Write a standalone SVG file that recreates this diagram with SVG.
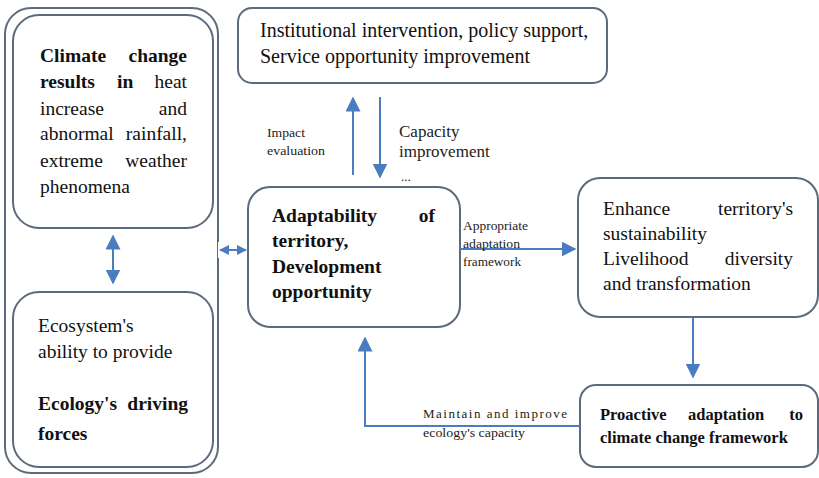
<svg xmlns="http://www.w3.org/2000/svg" width="819" height="478" viewBox="0 0 819 478">
  <style>
    .box { fill: #ffffff; stroke: #5b6a7c; stroke-width: 2; }
    .t { font-family: 'Liberation Serif', 'DejaVu Serif', 'Noto Serif', Tinos, 'Times New Roman', Times, serif; font-size: 19.5px; fill: #111111; }
    .b { font-weight: bold; }
    .s { font-family: 'Liberation Serif', 'DejaVu Serif', 'Noto Serif', Tinos, 'Times New Roman', Times, serif; font-size: 13px; fill: #222222; }
    .m { font-family: 'Liberation Serif', 'DejaVu Serif', 'Noto Serif', Tinos, 'Times New Roman', Times, serif; font-size: 17px; fill: #222222; }
    .p { font-family: 'Liberation Serif', 'DejaVu Serif', 'Noto Serif', Tinos, 'Times New Roman', Times, serif; font-size: 16.5px; font-weight: bold; fill: #111111; }
    .e { text-anchor: end; }
    .arrow { fill: none; stroke: #4a7dbf; stroke-width: 2; }
  </style>
  <defs>
    <marker id="head" viewBox="0 0 10 10" refX="9" refY="5" markerWidth="7.5" markerHeight="7.5" markerUnits="strokeWidth" orient="auto-start-reverse">
      <path d="M0,0 L10,5 L0,10 Z" fill="#4a7dbf"/>
    </marker>
    <marker id="headS" viewBox="0 0 10 10" refX="9" refY="5" markerWidth="5" markerHeight="5" markerUnits="strokeWidth" orient="auto-start-reverse">
      <path d="M0,0 L10,5 L0,10 Z" fill="#4a7dbf"/>
    </marker>
  </defs>

  <rect width="819" height="478" fill="#ffffff"/>

  <!-- Outer frame around the climate and ecology boxes -->
  <g id="frame">
    <rect class="box" x="5" y="8" width="213" height="465" rx="26"/>
  </g>

  <g id="climate">
    <rect class="box" x="13" y="15" width="200" height="213" rx="26"/>
    <text class="t b" x="40" y="62">Climate</text>
    <text class="t b e" x="187" y="62">change</text>
    <text class="t b" x="40" y="88">results</text>
    <text class="t b" x="117" y="88">in</text>
    <text class="t e" x="187" y="88">heat</text>
    <text class="t" x="40" y="115">increase</text>
    <text class="t e" x="187" y="115">and</text>
    <text class="t" x="40" y="140">abnormal</text>
    <text class="t e" x="187" y="140">rainfall,</text>
    <text class="t" x="40" y="167">extreme</text>
    <text class="t e" x="187" y="167">weather</text>
    <text class="t" x="40" y="193">phenomena</text>
  </g>

  <g id="ecosystem">
    <rect class="box" x="13" y="292" width="200" height="175" rx="26"/>
    <text class="t" x="38" y="332">Ecosystem's</text>
    <text class="t" x="38" y="358">ability to provide</text>
    <text class="t b" x="38" y="410">Ecology's</text>
    <text class="t b e" x="188" y="410">driving</text>
    <text class="t b" x="38" y="440">forces</text>
  </g>

  <g id="institutional">
    <rect class="box" x="238" y="8" width="369" height="75" rx="14"/>
    <text class="t" x="260" y="37" style="font-size:20px">Institutional intervention, policy support,</text>
    <text class="t" x="260" y="63" style="font-size:20px">Service opportunity improvement</text>
  </g>

  <g id="adaptability">
    <rect class="box" x="248" y="187" width="212" height="140" rx="22"/>
    <text class="t b" x="272" y="222">Adaptability</text>
    <text class="t b e" x="435" y="222">of</text>
    <text class="t b" x="272" y="247">territory,</text>
    <text class="t b" x="272" y="273">Development</text>
    <text class="t b" x="272" y="298">opportunity</text>
  </g>

  <g id="sustainability">
    <rect class="box" x="578" y="178" width="240" height="139" rx="22"/>
    <text class="t" x="603" y="215">Enhance</text>
    <text class="t e" x="793" y="215">territory's</text>
    <text class="t" x="603" y="240">sustainability</text>
    <text class="t" x="603" y="265">Livelihood</text>
    <text class="t e" x="793" y="265">diversity</text>
    <text class="t" x="603" y="290">and transformation</text>
  </g>

  <g id="proactive">
    <rect class="box" x="580" y="385" width="238" height="82" rx="16"/>
    <text class="p" x="600" y="420">Proactive</text>
    <text class="p" x="688" y="420">adaptation</text>
    <text class="p e" x="803" y="420">to</text>
    <text class="p" x="600" y="443">climate change framework</text>
  </g>

  <g id="connectors">
    <!-- climate <-> ecosystem -->
    <line class="arrow" x1="113" y1="236" x2="113" y2="283" marker-start="url(#head)" marker-end="url(#head)"/>
    <!-- frame <-> adaptability -->
    <rect x="218" y="242" width="29" height="16" fill="#ffffff"/>
    <line class="arrow" x1="220" y1="250" x2="246" y2="250" marker-start="url(#headS)" marker-end="url(#headS)"/>
    <!-- adaptability -> institutional -->
    <line class="arrow" x1="353" y1="175" x2="353" y2="98" marker-end="url(#head)"/>
    <!-- institutional -> adaptability -->
    <line class="arrow" x1="380" y1="97" x2="380" y2="177" marker-end="url(#head)"/>
    <!-- adaptability -> sustainability -->
    <line class="arrow" x1="460" y1="249" x2="575" y2="249" marker-end="url(#head)"/>
    <!-- sustainability -> proactive -->
    <line class="arrow" x1="693" y1="318" x2="693" y2="377" marker-end="url(#head)"/>
    <!-- proactive -> adaptability (feedback) -->
    <polyline class="arrow" points="580,426 365,426 365,338" marker-end="url(#head)"/>

    <text class="s" x="267" y="137" textLength="38" lengthAdjust="spacingAndGlyphs">Impact</text>
    <text class="s" x="267" y="155" textLength="58" lengthAdjust="spacingAndGlyphs">evaluation</text>
    <text class="m" x="399" y="137">Capacity</text>
    <text class="m" x="399" y="157">improvement</text>
    <text class="s" x="401" y="181" font-size="8" fill="#bbbbbb">...</text>
    <text class="s" x="463" y="230" textLength="65" lengthAdjust="spacingAndGlyphs">Appropriate</text>
    <text class="s" x="463" y="248" textLength="57" lengthAdjust="spacingAndGlyphs">adaptation</text>
    <text class="s" x="463" y="266" textLength="58" lengthAdjust="spacingAndGlyphs">framework</text>
    <text class="s" x="423" y="418" textLength="144" lengthAdjust="spacing">Maintain and improve</text>
    <text class="s" x="423" y="437" textLength="102" lengthAdjust="spacingAndGlyphs">ecology's capacity</text>
  </g>
</svg>
